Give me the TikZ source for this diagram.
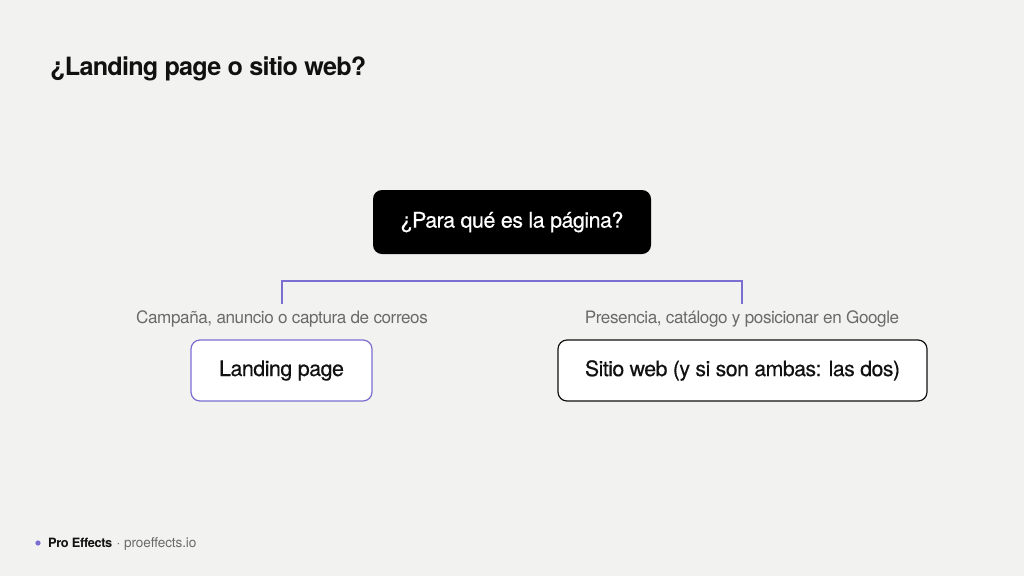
\documentclass[tikz,border=0pt]{standalone}
\usepackage{fontspec}
\setmainfont{TeX Gyre Heros}[LetterSpace=-2.5]
\newfontfamily\medfont{TeX Gyre Heros}[FakeBold=0.35,LetterSpace=-2.5]
\newfontfamily\titlefont{TeX Gyre Heros Bold}[LetterSpace=-3]
\newfontfamily\footfont{TeX Gyre Heros}[LetterSpace=-1]
\usetikzlibrary{positioning}
\definecolor{bg}{HTML}{F2F2F0}
\definecolor{accent}{HTML}{7B6FD2}
\definecolor{graytext}{HTML}{6A6A6A}
\definecolor{ink}{HTML}{111111}
\tikzset{
  boxbase/.style={rounded corners=9pt, minimum height=61pt, inner sep=0pt},
  darkbox/.style={boxbase, fill=black, text=white, font=\medfont\fontsize{21.5}{25}\selectfont},
  lightbox/.style={boxbase, fill=white, draw=ink, line width=1.2pt, text=ink, font=\medfont\fontsize{21.5}{25}\selectfont},
  accentbox/.style={lightbox, draw=accent},
  edgelabel/.style={text=graytext, font=\fontsize{17.1}{20}\selectfont, inner sep=0pt},
  branch/.style={draw=accent, line width=1.6pt},
}
\begin{document}
\begin{tikzpicture}[x=1pt,y=-1pt]
\fill[bg] (0,0) rectangle (1024,576);
\useasboundingbox (0,0) rectangle (1024,576);
\node[anchor=base west, inner sep=0pt, text=ink, font=\titlefont\fontsize{25.2}{30}\selectfont] (title) at (50,75) {¿Landing page o sitio web?};
\node[darkbox, minimum width=278pt, minimum height=64pt] (q) at (512,222) {¿Para qué es la página?};
\node[accentbox, minimum width=181pt] (lp) at (281.5,370.5) {Landing page};
\node[lightbox, minimum width=369pt] (sw) at (742.5,370.5) {\fontsize{21.3}{25}\selectfont Sitio web (y si son ambas: las dos)};
\coordinate (jl) at (282,281);
\coordinate (jr) at (742,281);
\coordinate (dl) at (282,304);
\coordinate (dr) at (742,304);
\draw[branch] (dl) -- (jl) -- (jr) -- (dr);
\node[edgelabel, anchor=base] (ll) at (282,323.5) {Campaña, anuncio o captura de correos};
\node[edgelabel, anchor=base] (lr) at (742,323.5) {Presencia, catálogo y posicionar en Google};
\fill[accent] (38,543) circle (2.6pt);
\node[anchor=base west, inner sep=0pt, text=ink, font=\titlefont\fontsize{12.8}{14}\selectfont] (brand) at (48,547) {Pro Effects};
\node[anchor=base west, inner sep=0pt, text=graytext, font=\footfont\fontsize{13.6}{15}\selectfont] (url) at ([xshift=4pt]brand.base east) {· proeffects.io};
\end{tikzpicture}
\end{document}
